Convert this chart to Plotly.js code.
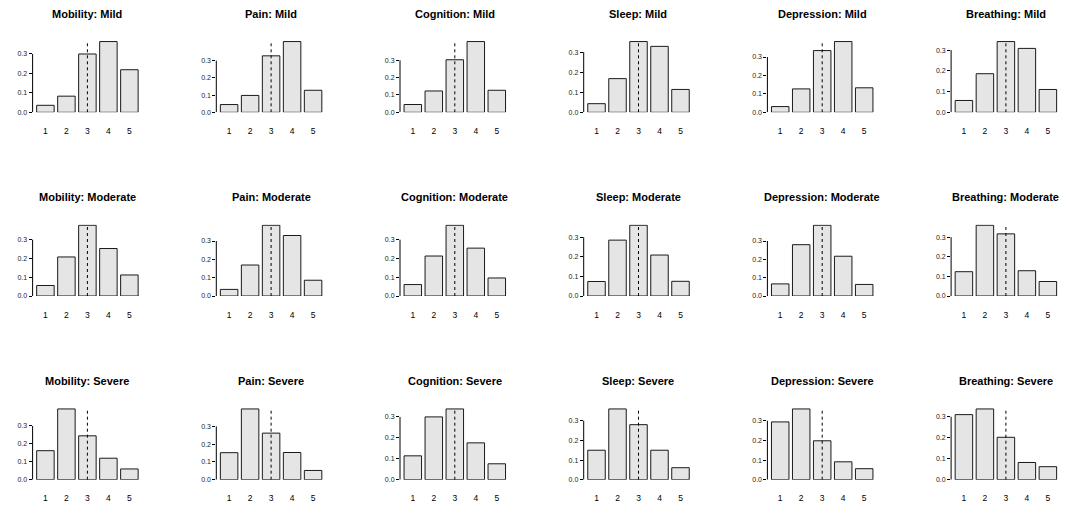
<!DOCTYPE html>
<html>
<head>
<meta charset="utf-8">
<script src="https://cdn.plot.ly/plotly-3.0.1.min.js"></script>
<style>
  html, body { margin: 0; padding: 0; background: #ffffff; }
  #chart { width: 1068px; height: 507px; }
</style>
</head>
<body>
<div id="chart"></div>
<script>
// Response levels shown on every panel
const levels = ['1', '2', '3', '4', '5'];
// Level marked with the dashed reference line
const refLevel = '3';
// Symptom domains (columns) and severity groups (rows)
const domains = ['Mobility', 'Pain', 'Cognition', 'Sleep', 'Depression', 'Breathing'];
const severities = ['Mild', 'Moderate', 'Severe'];
// Y-axis tick values
const yTicks = [0, 0.1, 0.2, 0.3];

// Proportion of responses at each level: one row per severity (Mild, Moderate, Severe)
const mobility = [
  [0.036, 0.083, 0.300, 0.364, 0.219],
  [0.056, 0.208, 0.377, 0.253, 0.112],
  [0.162, 0.395, 0.245, 0.120, 0.060]
];
const pain = [
  [0.045, 0.098, 0.328, 0.411, 0.128],
  [0.036, 0.169, 0.386, 0.330, 0.086],
  [0.152, 0.398, 0.262, 0.153, 0.052]
];
const cognition = [
  [0.045, 0.123, 0.303, 0.408, 0.127],
  [0.061, 0.213, 0.377, 0.255, 0.096],
  [0.114, 0.300, 0.338, 0.176, 0.076]
];
const sleep = [
  [0.043, 0.168, 0.353, 0.329, 0.114],
  [0.074, 0.285, 0.361, 0.209, 0.075],
  [0.150, 0.360, 0.280, 0.150, 0.061]
];
const depression = [
  [0.031, 0.127, 0.335, 0.384, 0.133],
  [0.066, 0.280, 0.386, 0.217, 0.063],
  [0.294, 0.360, 0.198, 0.091, 0.056]
];
const breathing = [
  [0.057, 0.186, 0.341, 0.308, 0.110],
  [0.124, 0.361, 0.317, 0.129, 0.074],
  [0.310, 0.337, 0.202, 0.082, 0.062]
];
const domainData = [mobility, pain, cognition, sleep, depression, breathing];

// Panel geometry (pixels)
const W = 1068, H = 507;
const colStep = 183.7, rowStep = 183.7;
const plotLeft0 = 32.6, plotW = 109.6;
const plotTop0 = 40.7, plotH = 71.6;
// Small headroom so the outline of the tallest bar is not clipped
const headroom = 1.012;

const fontFamily = '"Liberation Sans", Arial, Helvetica, sans-serif';
const traces = [];
const layout = {
  width: W, height: H,
  margin: {l: 0, r: 0, t: 0, b: 0},
  paper_bgcolor: '#ffffff',
  plot_bgcolor: 'rgba(0,0,0,0)',
  showlegend: false,
  bargap: 1 / 6,
  font: {family: fontFamily, color: '#000000'},
  annotations: [],
  shapes: []
};

severities.forEach((sev, r) => {
  domains.forEach((dom, c) => {
    const n = r * domains.length + c + 1;
    const xa = n === 1 ? 'x' : 'x' + n;
    const ya = n === 1 ? 'y' : 'y' + n;
    const xKey = n === 1 ? 'xaxis' : 'xaxis' + n;
    const yKey = n === 1 ? 'yaxis' : 'yaxis' + n;
    const values = domainData[c][r];
    const top = Math.max(...values);

    const left = plotLeft0 + colStep * c;
    const ptop = plotTop0 + rowStep * r;

    traces.push({
      type: 'bar', x: levels, y: values, xaxis: xa, yaxis: ya,
      marker: {color: '#e5e5e5', line: {color: '#1a1a1a', width: 1}},
      hoverinfo: 'x+y'
    });
    traces.push({
      type: 'scatter', mode: 'lines', x: [refLevel, refLevel], y: [0, top],
      xaxis: xa, yaxis: ya,
      line: {color: '#000000', width: 1, dash: '3px,3px'},
      hoverinfo: 'skip'
    });

    layout[xKey] = {
      domain: [left / W, (left + plotW) / W],
      anchor: ya,
      type: 'category',
      categoryorder: 'array', categoryarray: levels,
      range: [-0.61, 4.61],
      showline: false, showgrid: false, zeroline: false,
      ticks: '',
      tickfont: {size: 8.5, color: '#000000', family: fontFamily},
      ticklabelstandoff: 12,
      fixedrange: true
    };
    layout[yKey] = {
      domain: [1 - (ptop + plotH) / H, 1 - ptop / H],
      anchor: xa,
      range: [0, top * headroom],
      showline: false, showgrid: false, zeroline: false,
      tickmode: 'array', tickvals: yTicks, tickformat: '.1f',
      ticks: 'outside', ticklen: 3, tickwidth: 1, tickcolor: '#000000',
      tickfont: {size: 7, color: '#222222', family: fontFamily},
      fixedrange: true
    };

    // Y axis line spanning only the labelled ticks
    layout.shapes.push({
      type: 'line', xref: xa + ' domain', yref: ya,
      x0: 0, x1: 0, y0: yTicks[0], y1: yTicks[yTicks.length - 1],
      line: {color: '#000000', width: 1}
    });

    layout.annotations.push({
      text: '<b>' + dom + ': ' + sev + '</b>',
      xref: 'paper', yref: 'paper',
      x: (left + plotW / 2) / W, y: 1 - ptop / H,
      xanchor: 'center', yanchor: 'middle', yshift: 27,
      showarrow: false,
      font: {size: 11, family: fontFamily, color: '#000000'}
    });
  });
});

Plotly.newPlot('chart', traces, layout, {displayModeBar: false, staticPlot: true});
</script>
</body>
</html>
